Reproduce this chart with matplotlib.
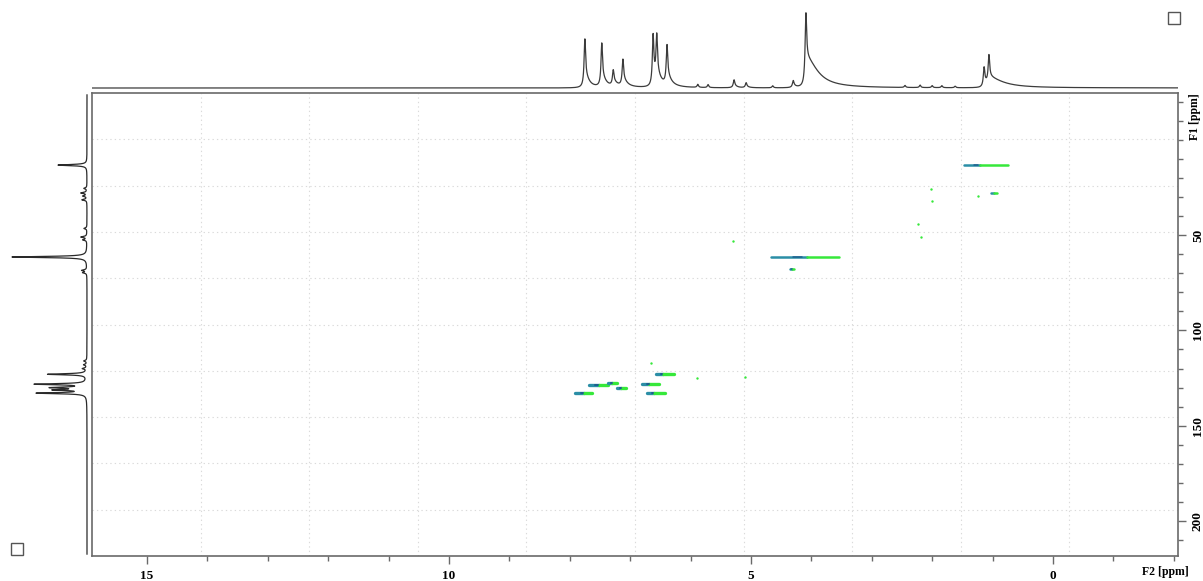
import numpy as np
import matplotlib
matplotlib.use("Agg")
import matplotlib.pyplot as plt
from matplotlib.patches import Rectangle

# ---- 1H projection (F2): peak positions [ppm], total heights, tail heights, tail widths [ppm]
h1_ppm = [7.75, 7.47, 7.28, 7.12, 6.62, 6.56, 6.39, 5.88, 5.71, 5.28, 5.08, 4.64,
          4.30, 4.09, 2.45, 2.20, 2.00, 1.84, 1.62, 1.14, 1.06]
h1_height = [49, 44, 16, 27, 51, 46, 40, 3, 3, 8, 5, 2,
             7, 75, 2, 2.5, 2, 2, 1.5, 20, 29]
h1_tail = [12, 10, 5, 7, 10, 10, 10, 0, 0, 2, 1, 0,
           2, 30, 0, 0, 0, 0, 0, 5, 8]
h1_tail_w = [0.08, 0.08, 0.08, 0.08, 0.08, 0.08, 0.08, 0.05, 0.05, 0.06, 0.06, 0.05,
             0.06, 0.22, 0.05, 0.05, 0.05, 0.05, 0.05, 0.15, 0.3]

# ---- 13C projection (F1): peak positions [ppm] and heights
c13_ppm = [13.3, 25.5, 27.9, 29.5, 31.5, 46.5, 51.0, 52.5, 61.5, 68.5, 69.7,
           116.0, 118.0, 120.0, 123.0, 128.2, 130.0, 131.2, 132.9]
c13_height = [29, 3, 6, 4, 5, 3, 6, 4, 75, 5, 4,
              3, 3, 4, 39, 51, 33, 30, 49]

# ---- HSQC cross peaks: F2 left edge, F2 colour change, F2 right edge, F1 [ppm]
xp_f2_left = [7.91, 7.68, 7.36, 7.22, 6.80, 6.72, 6.57, 4.67, 4.36, 1.47, 1.03]
xp_f2_mid = [7.77, 7.52, 7.30, 7.15, 6.68, 6.60, 6.45, 4.08, 4.32, 1.20, 0.98]
xp_f2_right = [7.63, 7.37, 7.22, 7.07, 6.52, 6.43, 6.28, 3.54, 4.28, 0.75, 0.93]
xp_f1 = [132.9, 128.6, 127.6, 130.3, 128.0, 133.0, 123.0, 61.5, 68.0, 13.3, 28.0]

# weak single-level correlations
dot_f2 = [6.66, 5.90, 5.10, 5.30, 1.24, 2.02, 2.00, 2.24, 2.19]
dot_f1 = [117.0, 125.0, 124.5, 53.1, 29.5, 26.0, 32.0, 44.0, 51.0]

F2_LIM = (15.91, -2.07)
F1_LIM = (218.3, -24.5)

W, H = 1203, 581
fig = plt.figure(figsize=(W / 100, H / 100), dpi=100)


def fx(px):
    return px / W


def fy(px):
    return 1 - px / H


def spectrum(axis, centers, heights, hw, tails=None, tail_w=None):
    y = np.zeros_like(axis)
    for i, (c, h) in enumerate(zip(centers, heights)):
        t = tails[i] if tails is not None else 0.0
        tw = tail_w[i] if tail_w is not None else hw
        d = axis - c
        y += (h - t) * hw ** 2 / (d ** 2 + hw ** 2)
        if t > 0:
            up = d < 0  # upfield side carries the slow decay
            y[up] += t / (1 + (d[up] / tw) ** 2)
            y[~up] += t * (hw * 1.5) ** 2 / (d[~up] ** 2 + (hw * 1.5) ** 2)
    return y


frame_col = "#6a6a6a"
tick_font = dict(family="Liberation Serif", weight="bold", size=9.5)

# ---- main 2D axes
ax = fig.add_axes([fx(92), fy(556), fx(1178) - fx(92), fy(93) - fy(556)])
ax.set_xlim(*F2_LIM)
ax.set_ylim(*F1_LIM)

for s in ax.spines.values():
    s.set_color(frame_col)
    s.set_linewidth(1.2)

# dotted grid dividing the frame into ten parts each way
for i in range(1, 10):
    xv = F2_LIM[0] + (F2_LIM[1] - F2_LIM[0]) * i / 10
    yv = F1_LIM[0] + (F1_LIM[1] - F1_LIM[0]) * i / 10
    ax.axvline(xv, color="#dadada", lw=0.8, ls=(0, (1.2, 2.8)), zorder=0)
    ax.axhline(yv, color="#dadada", lw=0.8, ls=(0, (1.2, 2.8)), zorder=0)

teal = "#2b8ea6"
core = "#1d5f8e"
green = "#36e83a"
for l, m, r, f1 in zip(xp_f2_left, xp_f2_mid, xp_f2_right, xp_f1):
    lw = 2.4 if f1 > 100 else 1.8
    ax.plot([l, m], [f1, f1], color=teal, lw=lw, solid_capstyle="round", zorder=3)
    ax.plot([m, r], [f1, f1], color=green, lw=lw, solid_capstyle="round", zorder=3)
    c = m + (l - m) * 0.25
    ax.plot([c + (l - m) * 0.12, c - (l - m) * 0.12], [f1, f1], color=core,
            lw=lw * 0.6, solid_capstyle="round", zorder=4)
ax.scatter(dot_f2, dot_f1, s=3, color=green, zorder=3, linewidths=0)

# axis ticks
ax.xaxis.set_ticks_position("bottom")
ax.set_xticks([15, 10, 5, 0])
ax.set_xticks(np.arange(-2, 16, 1), minor=True)
ax.set_xticklabels(["15", "10", "5", "0"], fontdict=tick_font)
ax.yaxis.tick_right()
ax.set_yticks([50, 100, 150, 200])
ax.set_yticks(np.arange(-20, 220, 10), minor=True)
ax.set_yticklabels(["50", "100", "150", "200"], fontdict=tick_font)
for lab in ax.get_yticklabels():
    lab.set_rotation(90)
    lab.set_va("center")
    lab.set_ha("left")
ax.tick_params(which="major", direction="out", length=6, width=1, color=frame_col, pad=4)
ax.tick_params(which="minor", direction="out", length=3.5, width=1, color=frame_col)
ax.tick_params(axis="y", which="both", left=False, right=True)

fig.text(fx(1165), fy(572), "F2 [ppm]", ha="center", va="center",
         family="Liberation Serif", weight="bold", size=8.5)
fig.text(fx(1195), fy(117), "F1 [ppm]", ha="center", va="center", rotation=90,
         family="Liberation Serif", weight="bold", size=8.5)

# ---- top 1H trace
axt = fig.add_axes([fx(92), fy(90), fx(1178) - fx(92), fy(2) - fy(90)])
axt.set_xlim(*F2_LIM)
axt.set_ylim(-2, 86)
axt.axis("off")
ppm_h = np.linspace(F2_LIM[0], F2_LIM[1], 12000)
axt.plot(ppm_h, spectrum(ppm_h, h1_ppm, h1_height, 0.014, h1_tail, h1_tail_w),
         color="#3c3c3c", lw=0.9)

# ---- left 13C trace
axl = fig.add_axes([fx(0), fy(556), fx(90), fy(93) - fy(556)])
axl.set_ylim(*F1_LIM)
axl.set_xlim(87, -3)
axl.axis("off")
ppm_c = np.linspace(F1_LIM[1] + 1, F1_LIM[0] - 1, 12000)
axl.plot(spectrum(ppm_c, c13_ppm, c13_height, 0.35), ppm_c, color="#2a2a2a", lw=0.9)

# small frame markers in the corners
for x0, y0 in [(1168, 24), (11, 555)]:
    fig.patches.append(Rectangle((fx(x0), fy(y0)), 12 / W, 12 / H, transform=fig.transFigure,
                                 fill=False, ec="#555555", lw=1))

fig.savefig("out.png", dpi=100)
